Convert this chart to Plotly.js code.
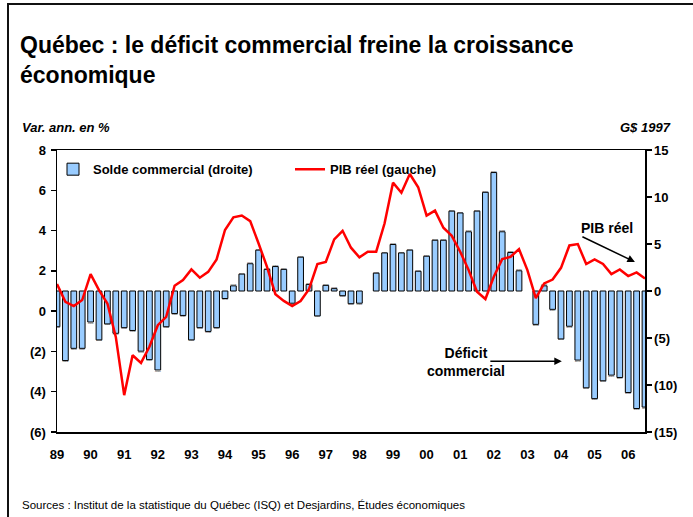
<!DOCTYPE html>
<html>
<head>
<meta charset="utf-8">
<script src="https://cdn.plot.ly/plotly-3.0.1.min.js"></script>
<style>
  html, body { margin: 0; padding: 0; background: #fff; }
  #wrap { position: relative; width: 693px; height: 517px; overflow: hidden; }
  #chart { position: absolute; left: 0; top: 0; width: 693px; height: 517px; }
  #frame { position: absolute; left: 7px; top: 3px; width: 700px; height: 530px;
           border-left: 2.5px solid #111; border-top: 2.5px solid #111; pointer-events: none; }
</style>
</head>
<body>
<div id="wrap">
  <div id="chart"></div>
  <div id="frame"></div>
</div>
<script>
// Quarterly data, 1989T1 .. 2006T3
const startYear = 1989;
const nQuarters = 71;
const quarters = [];
for (let i = 0; i < nQuarters; i++) {
  quarters.push((startYear + Math.floor(i / 4)) + 'T' + (i % 4 + 1));
}

// Solde commercial (G$ 1997, right axis)
const soldeCommercial = [
  -3.8, -7.4, -6.1, -6.1, -3.3, -5.2, -3.5, -4.5,
  -3.9, -4.2, -6.4, -7.3, -8.4, -3.8, -2.4, -2.6,
  -5.2, -3.9, -4.3, -3.9, -0.8, 0.55, 1.8, 2.9,
  4.35, 2.3, 2.6, 2.3, -1.3, 3.6, 0.7, -2.65,
  0.6, 0.25, -0.5, -1.35, -1.3, null, 1.9, 4.05,
  4.95, 4.05, 4.35, 2.1, 3.7, 5.4, 5.4, 8.5,
  8.3, 6.3, 8.5, 10.5, 12.6, 6.3, 4.1, 2.15,
  null, -3.55, 0.55, -1.95, -5.1, -3.75, -7.35, -10.3,
  -11.45, -9.55, -8.95, -9.2, -10.8, -12.5, -12.35
];

// PIB réel (var. ann. en %, left axis)
const pibReel = [
  1.35, 0.46, 0.25, 0.55, 1.84, 1.04, 0.38, -1.28,
  -4.17, -2.19, -2.57, -1.77, -0.7, -0.28, 1.26, 1.54,
  2.07, 1.66, 1.95, 2.57, 4.03, 4.66, 4.75, 4.47,
  3.36, 2.2, 0.84, 0.51, 0.25, 0.5, 1.09, 2.34,
  2.44, 3.56, 3.99, 3.15, 2.67, 2.95, 2.95, 4.36,
  6.38, 5.88, 6.81, 6.15, 4.74, 4.99, 4.14, 3.74,
  2.95, 2.04, 0.96, 0.6, 1.71, 2.58, 2.7, 3.08,
  2.04, 0.65, 1.375, 1.57, 2.15, 3.26, 3.33, 2.34,
  2.57, 2.34, 1.84, 2.07, 1.74, 1.92, 1.62
];

const yearTickIdx = [0, 4, 8, 12, 16, 20, 24, 28, 32, 36, 40, 44, 48, 52, 56, 60, 64, 68];
const yearTickText = ['89','90','91','92','93','94','95','96','97','98','99','00','01','02','03','04','05','06'];

const leftTickVals = [-6, -4, -2, 0, 2, 4, 6, 8];
const leftTickText = ['(6)', '(4)', '(2)', '0', '2', '4', '6', '8'];
const rightTickVals = [-15, -10, -5, 0, 5, 10, 15];
const rightTickText = ['(15)', '(10)', '(5)', '0', '5', '10', '15'];

const xIdx = quarters.map((q, i) => i);

const FONT = 'Liberation Sans, Arial, sans-serif';

const traces = [
  {
    type: 'bar',
    name: '<b>Solde commercial (droite)</b>',
    legend: 'legend',
    x: xIdx,
    y: soldeCommercial,
    text: quarters,
    hoverinfo: 'text+y',
    yaxis: 'y',
    width: 0.68,
    marker: { color: '#99CCFF', line: { color: '#000000', width: 1 } }
  },
  {
    type: 'scatter',
    mode: 'lines',
    name: '<b>PIB réel (gauche)</b>',
    legend: 'legend2',
    x: xIdx,
    y: pibReel,
    text: quarters,
    yaxis: 'y2',
    line: { color: '#FF0000', width: 2.5 }
  }
];

const W = 693, H = 517;
const L = 57, R = 48, T = 150, B = 85;
const PW = W - L - R, PH = H - T - B;

const legendCommon = {
  orientation: 'h',
  xanchor: 'left',
  y: 0.985, yanchor: 'top',
  bgcolor: 'rgba(255,255,255,0)',
  font: { family: FONT, size: 13, color: '#000' }
};

const layout = {
  width: W, height: H,
  margin: { l: L, r: R, t: T, b: B, pad: 0 },
  paper_bgcolor: '#ffffff',
  plot_bgcolor: '#ffffff',
  font: { family: FONT, color: '#000000', size: 13 },
  showlegend: true,
  title: {
    text: '<b>Québec : le déficit commercial freine la croissance<br>économique</b>',
    font: { family: FONT, size: 23, color: '#000' },
    xref: 'container', yref: 'container',
    x: 20 / W, xanchor: 'left',
    y: 1 - 53 / H, yanchor: 'middle'
  },
  legend: Object.assign({}, legendCommon, { x: (53 - L) / PW }),
  legend2: Object.assign({}, legendCommon, { x: (290 - L) / PW }),
  xaxis: {
    type: 'linear',
    range: [0, 70],
    tickvals: yearTickIdx,
    ticktext: yearTickText.map(t => '<b>' + t + '</b>'),
    ticks: '',
    showline: true, linecolor: '#000', linewidth: 1.5, mirror: true,
    showgrid: false, zeroline: false,
    ticklabelstandoff: 10,
    tickfont: { family: FONT, size: 13, color: '#000' }
  },
  yaxis: {
    side: 'right',
    range: [-15, 15],
    tickvals: rightTickVals,
    ticktext: rightTickText.map(t => '<b>' + t + '</b>'),
    ticks: 'outside', ticklen: 5, tickwidth: 1.5, tickcolor: '#000',
    showline: true, linecolor: '#000', linewidth: 1.5,
    showgrid: false, zeroline: false,
    tickfont: { family: FONT, size: 13, color: '#000' }
  },
  yaxis2: {
    overlaying: 'y',
    side: 'left',
    range: [-6, 8],
    tickvals: leftTickVals,
    ticktext: leftTickText.map(t => '<b>' + t + '</b>'),
    ticks: 'outside', ticklen: 5, tickwidth: 1.5, tickcolor: '#000',
    showline: true, linecolor: '#000', linewidth: 1.5,
    showgrid: false, zeroline: false,
    ticklabelstandoff: 2,
    tickfont: { family: FONT, size: 13, color: '#000' }
  },
  annotations: [
    {
      text: '<b><i>Var. ann. en %</i></b>',
      xref: 'paper', yref: 'paper',
      x: (20 - L) / PW, xanchor: 'left',
      y: (H - B - 127) / PH, yanchor: 'middle',
      showarrow: false, font: { family: FONT, size: 13, color: '#000' }
    },
    {
      text: '<b><i>G$ 1997</i></b>',
      xref: 'paper', yref: 'paper',
      x: (673 - L) / PW, xanchor: 'right',
      y: (H - B - 127) / PH, yanchor: 'middle',
      showarrow: false, font: { family: FONT, size: 13, color: '#000' }
    },
    {
      text: 'Sources : Institut de la statistique du Québec (ISQ) et Desjardins, Études économiques',
      xref: 'paper', yref: 'paper',
      x: (20 - L) / PW, xanchor: 'left',
      y: (H - B - 505) / PH, yanchor: 'middle',
      showarrow: false, font: { family: FONT, size: 11.5, color: '#000' }
    },
    {
      text: '<b>PIB réel</b>',
      xref: 'paper', yref: 'paper',
      x: (607 - L) / PW, xanchor: 'center',
      y: (H - B - 228) / PH, yanchor: 'middle',
      showarrow: false, font: { family: FONT, size: 14, color: '#000' }
    },
    {
      text: '',
      xref: 'x', yref: 'y2',
      x: 68.8, y: 2.44,
      axref: 'pixel', ayref: 'pixel',
      ax: -54, ay: -26,
      showarrow: true, arrowhead: 2, arrowsize: 1, arrowwidth: 1.5, arrowcolor: '#000'
    },
    {
      text: '<b>Déficit<br>commercial</b>',
      xref: 'paper', yref: 'paper',
      x: (466 - L) / PW, xanchor: 'center',
      y: (H - B - 362) / PH, yanchor: 'middle',
      showarrow: false, font: { family: FONT, size: 14, color: '#000' }
    },
    {
      text: '',
      xref: 'x', yref: 'y2',
      x: 60.1, y: -2.49,
      axref: 'pixel', ayref: 'pixel',
      ax: -73, ay: 0,
      showarrow: true, arrowhead: 2, arrowsize: 1, arrowwidth: 1.5, arrowcolor: '#000'
    }
  ]
};

Plotly.newPlot('chart', traces, layout, { displayModeBar: false, staticPlot: true });
</script>
</body>
</html>
